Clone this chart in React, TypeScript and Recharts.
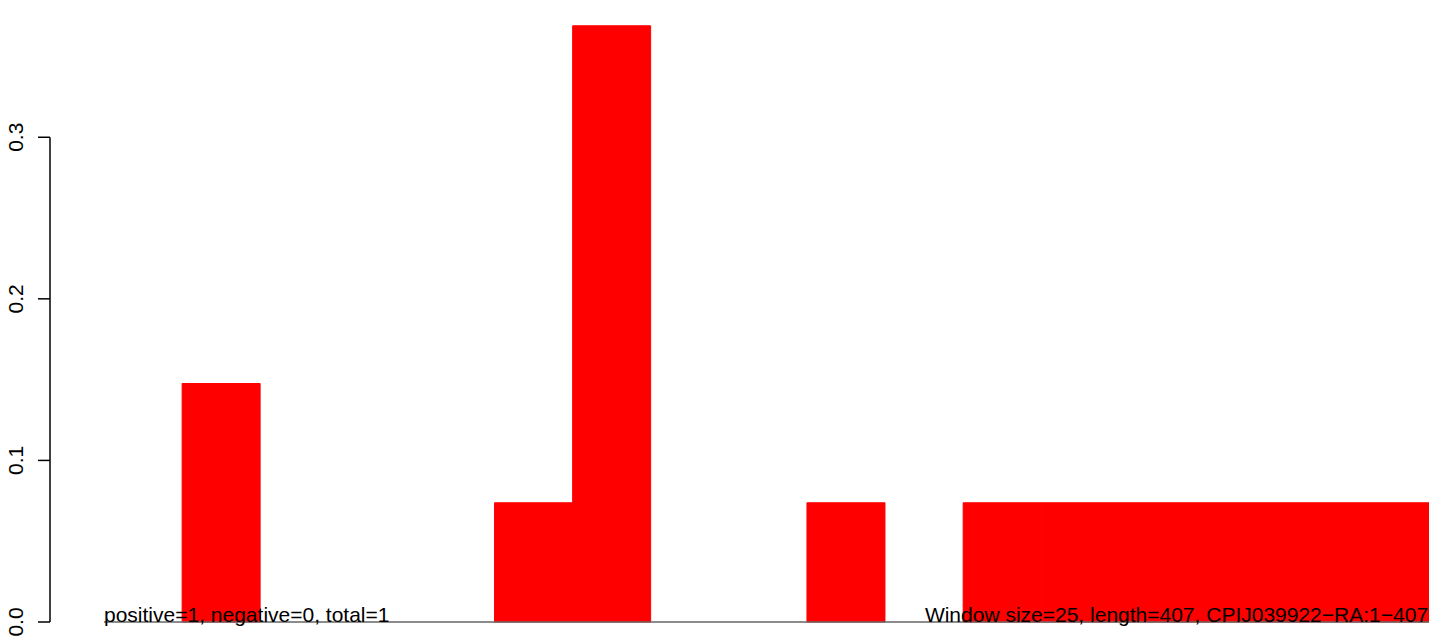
import React from "react";
import { BarChart, Bar, XAxis, YAxis, ReferenceLine } from "recharts";

// window start positions (window size 25, length 407)
const binStarts = [0, 25, 50, 75, 100, 125, 150, 175, 200, 225, 250, 275, 300, 325, 350, 375, 400];
// density of each window
const densities = [0, 0.1476, 0, 0, 0, 0.0738, 0.369, 0, 0, 0.0738, 0, 0.0738, 0.0738, 0.0738, 0.0738, 0.0738, 0.0738];
const yTicks = [0, 0.1, 0.2, 0.3];
const yTickLabels = ["0.0", "0.1", "0.2", "0.3"];
const windowSize = 25;
const leftNote = "positive=1, negative=0, total=1";
const rightNote = "Window size=25, length=407, CPIJ039922\u2212RA:1\u2212407";

const data = binStarts.map((s, i) => ({ mid: s + windowSize / 2, value: densities[i] }));

const FONT = "'Liberation Sans', Arial, Helvetica, sans-serif";
const X_MIN = -17.29;
const X_MAX = 424.1;

const YTick = (props: any) => {
  const { x, y, payload } = props;
  const idx = yTicks.indexOf(payload.value);
  const label = idx >= 0 ? yTickLabels[idx] : String(payload.value);
  const bx = x - 15;
  return (
    <text
      x={bx}
      y={y}
      transform={`rotate(-90, ${bx}, ${y})`}
      textAnchor="middle"
      fontFamily={FONT}
      fontSize={21}
      fill="#000"
    >
      {label}
    </text>
  );
};

const noteLabel = (text: string, anchor: "start" | "end") => (props: any) => {
  const vb = props.viewBox || {};
  const x = anchor === "start" ? vb.x : vb.x + (vb.width || 0);
  return (
    <text x={x} y={vb.y} textAnchor={anchor} fontFamily={FONT} fontSize={21} fill="#000">
      {text}
    </text>
  );
};

export default function App() {
  return (
    <div style={{ position: "absolute", left: 0, top: 0, width: 1429, height: 638, overflow: "hidden", background: "#fff" }}>
      <BarChart
        width={1429}
        height={638}
        data={data}
        margin={{ top: 8, right: 0, bottom: 16, left: 0 }}
        barCategoryGap={0}
        barGap={0}
      >
        <XAxis type="number" dataKey="mid" domain={[X_MIN, X_MAX]} allowDataOverflow hide />
        <YAxis
          width={50}
          domain={[0, 0.38]}
          ticks={yTicks}
          axisLine={false}
          tickLine={{ stroke: "#000", strokeWidth: 1.5 }}
          tickSize={12}
          tickMargin={0}
          tick={<YTick />}
          interval={0}
        />
        <Bar dataKey="value" fill="#ff0000" stroke="#ff0000" strokeWidth={1} isAnimationActive={false} />
        <ReferenceLine
          segment={[{ x: X_MIN, y: 0 }, { x: X_MIN, y: 0.3 }]}
          stroke="#000"
          strokeWidth={1.5}
          ifOverflow="visible"
        />
        <ReferenceLine
          segment={[{ x: 0, y: 0 }, { x: 425, y: 0 }]}
          stroke="#666"
          strokeWidth={1.5}
          ifOverflow="visible"
          label={noteLabel(leftNote, "start")}
        />
        <ReferenceLine
          segment={[{ x: 300, y: 0 }, { x: 423.8, y: 0 }]}
          stroke="none"
          strokeOpacity={0}
          ifOverflow="visible"
          label={noteLabel(rightNote, "end")}
        />
      </BarChart>
    </div>
  );
}
